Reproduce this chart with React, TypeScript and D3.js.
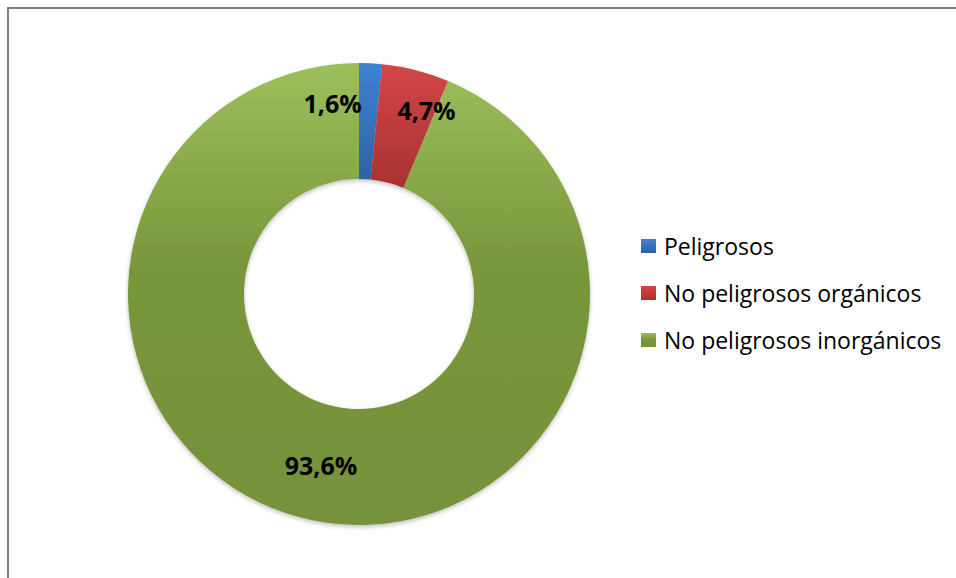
import * as d3 from "d3";

const categories = ["Peligrosos", "No peligrosos orgánicos", "No peligrosos inorgánicos"];
const values = [1.6, 4.7, 93.6];
const valueLabels = ["1,6%", "4,7%", "93,6%"];
// Excel nudges two small labels away from their centroids
const labelNudge: [number, number][] = [[-35, -18], [25, -16], [-4, 1]];
const gradients = [
  ["#3f82d3", "#2f62a4"],
  ["#d44646", "#a63232"],
  ["#9dbf5b", "#78963a"],
];

export default function App() {
  const width = 956;
  const height = 578;
  const cx = 359;
  const cy = 294;
  const outerR = 231;
  const innerR = 115;

  const pie = d3.pie<number>().sort(null).value((d) => d);
  const arcs = pie(values);
  const arc = d3.arc<d3.PieArcDatum<number>>().innerRadius(innerR).outerRadius(outerR);

  const legendX = 641;
  const legendY = d3.scalePoint<string>().domain(categories).range([246, 340]);
  const font = "'Open Sans', Lato, sans-serif";

  return (
    <svg width={width} height={height} style={{ position: "absolute", left: 0, top: 0 }}>
      <defs>
        {gradients.map((g, i) => (
          <linearGradient key={i} id={`grad${i}`} x1="0" y1="0" x2="0" y2="1">
            <stop offset="0" stopColor={g[0]} />
            <stop offset={i === 2 ? "0.45" : "1"} stopColor={g[1]} />
            <stop offset="1" stopColor={i === 2 ? "#76923b" : g[1]} />
          </linearGradient>
        ))}
        <filter id="shadow" x="-10%" y="-10%" width="120%" height="120%">
          <feDropShadow dx="0" dy="2" stdDeviation="2" floodColor="#000" floodOpacity="0.25" />
        </filter>
      </defs>
      <rect x={8} y={8} width={width + 10} height={height + 10} fill="#fff" stroke="#7f7f7f" strokeWidth={2} />
      <g transform={`translate(${cx},${cy})`} filter="url(#shadow)">
        {arcs.map((a, i) => (
          <path key={i} d={arc(a) ?? ""} fill={`url(#grad${i})`} />
        ))}
      </g>
      <g transform={`translate(${cx},${cy})`}>
        {arcs.map((a, i) => {
          const [x, y] = arc.centroid(a);
          return (
            <text
              key={i}
              x={x + labelNudge[i][0]}
              y={y + labelNudge[i][1]}
              textAnchor="middle"
              dominantBaseline="central"
              fontFamily={font}
              fontWeight="bold"
              fontSize={25}
              fill="#000"
            >
              {valueLabels[i]}
            </text>
          );
        })}
      </g>
      {categories.map((c, i) => (
        <g key={c} transform={`translate(${legendX},${legendY(c)})`}>
          <rect x={0} y={-7} width={15} height={14} fill={`url(#grad${i})`} />
          <text x={23} y={0} dominantBaseline="central" fontFamily={font} fontSize={23} fill="#000">
            {c}
          </text>
        </g>
      ))}
    </svg>
  );
}
